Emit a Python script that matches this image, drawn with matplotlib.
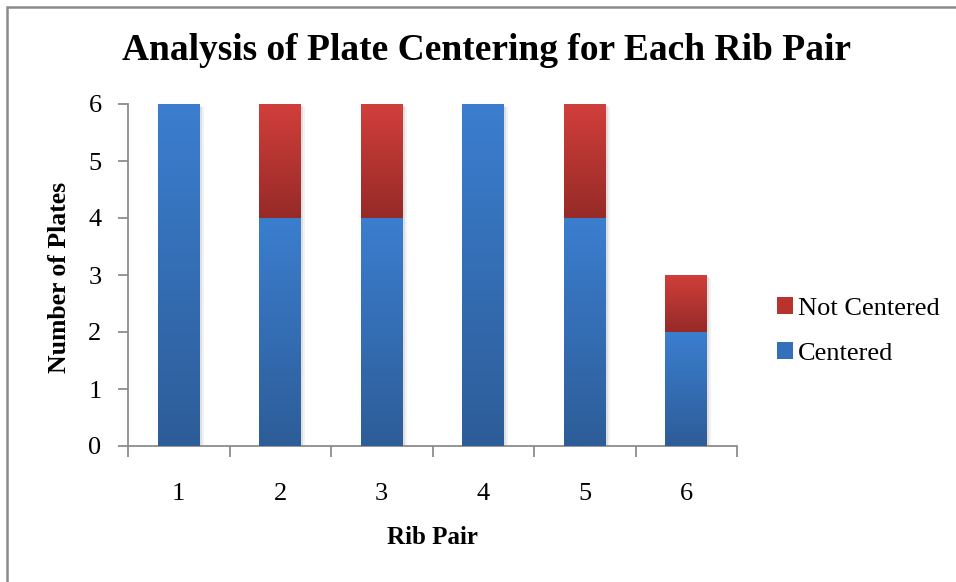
import matplotlib
matplotlib.use("Agg")
import matplotlib.pyplot as plt
import numpy as np
from matplotlib.patches import Rectangle, Patch
from matplotlib import patheffects as pe
from matplotlib.colors import LinearSegmentedColormap

plt.rcParams['font.family'] = ['Liberation Serif', 'DejaVu Serif']

categories = ["1", "2", "3", "4", "5", "6"]
centered = [6, 4, 4, 6, 4, 2]
not_centered = [0, 2, 2, 0, 2, 1]
y_ticks = [0, 1, 2, 3, 4, 5, 6]

title = "Analysis of Plate Centering for Each Rib Pair"
xlabel = "Rib Pair"
ylabel = "Number of Plates"

blue_top, blue_bot = "#3B7ECF", "#2D5D98"
red_top, red_bot = "#D13F3B", "#962A27"

W, H = 956, 582
fig = plt.figure(figsize=(W / 100, H / 100), dpi=100)
ax = fig.add_axes([128 / W, 1 - 446 / H, (737 - 128) / W, (446 - 104) / H])

x = np.arange(1, len(categories) + 1)
shadow = [pe.SimplePatchShadow(offset=(1.5, -1.5), shadow_rgbFace='#000000', alpha=0.08),
          pe.SimplePatchShadow(offset=(3, -2.5), shadow_rgbFace='#000000', alpha=0.05),
          pe.Normal()]
b1 = ax.bar(x, centered, width=0.41, color=blue_top, zorder=2, path_effects=shadow, label="Centered")
b2 = ax.bar(x, not_centered, bottom=centered, width=0.41, color=red_top, zorder=2,
            path_effects=shadow, label="Not Centered")


def gradient(bars, top, bot):
    cmap = LinearSegmentedColormap.from_list("g", [bot, top])
    grad = np.linspace(0, 1, 256).reshape(-1, 1)
    for p in bars:
        h = p.get_height()
        if h <= 0:
            p.set_visible(False)
            continue
        x0, y0, w = p.get_x(), p.get_y(), p.get_width()
        im = ax.imshow(grad, cmap=cmap, origin='lower', aspect='auto',
                       extent=(x0, x0 + w, y0, y0 + h), zorder=3, interpolation='bilinear')
        im.set_clip_path(p)


gradient(b1, blue_top, blue_bot)
gradient(b2, red_top, red_bot)

ax.set_xlim(0.5, len(categories) + 0.5)
ax.set_ylim(0, 6)

axis_col = "#8C8C8C"
for s in ["top", "right"]:
    ax.spines[s].set_visible(False)
for s in ["left", "bottom"]:
    ax.spines[s].set_color(axis_col)
    ax.spines[s].set_linewidth(1.3)

ax.set_yticks(y_ticks)
ax.set_yticklabels([str(v) for v in y_ticks], fontsize=19)
ax.tick_params(axis='y', direction='out', length=7, width=1.3, color=axis_col, pad=12)

ax.set_xticks(np.arange(0.5, len(categories) + 1, 1.0))
ax.set_xticklabels([])
ax.tick_params(axis='x', which='major', direction='out', length=8, width=1.3, color=axis_col)
ax.set_xticks(x, minor=True)
ax.set_xticklabels(categories, minor=True, fontsize=19)
ax.tick_params(axis='x', which='minor', length=0, pad=27)

fig.text(486 / W, 1 - 50 / H, title, ha='center', va='center', fontsize=27, fontweight='bold')
fig.text(432 / W, 1 - 538 / H, xlabel, ha='center', va='center', fontsize=18, fontweight='bold')
fig.text(60 / W, 1 - 277 / H, ylabel, ha='center', va='center', fontsize=18.5,
         fontweight='bold', rotation=90)

handles = [Patch(facecolor="#B8332F", edgecolor='none'), Patch(facecolor="#3470BA", edgecolor='none')]
fig.legend(handles, ["Not Centered", "Centered"], loc='center left',
           bbox_to_anchor=(777 / W, 1 - 331 / H), frameon=False, fontsize=19,
           handlelength=0.6, handleheight=0.6, handletextpad=0.2, labelspacing=0.85,
           borderaxespad=0, borderpad=0)

fig.patches.append(Rectangle((7 / W, -0.05), 2, 1 - 7 / H + 0.05, transform=fig.transFigure,
                             fill=False, edgecolor="#8A8A8A", lw=1.8))

fig.savefig("out.png", dpi=100)
